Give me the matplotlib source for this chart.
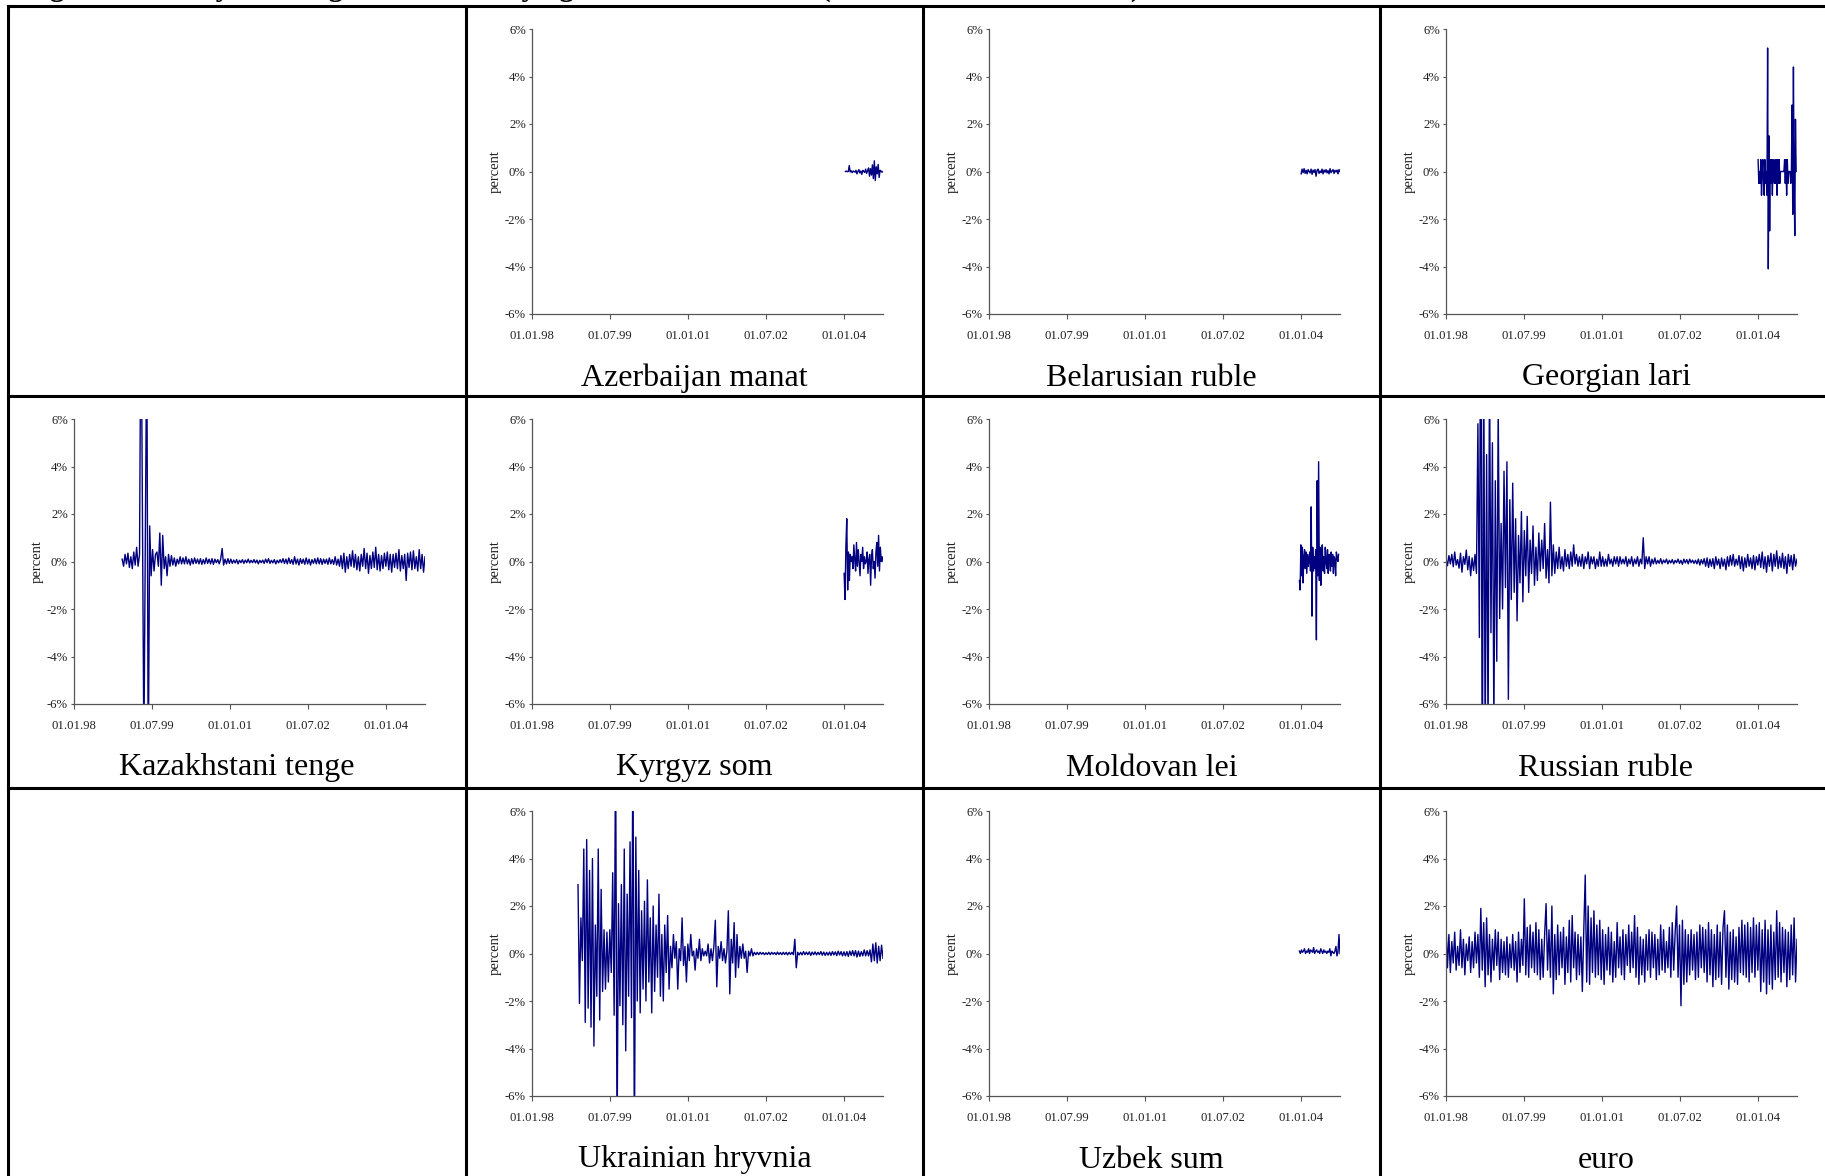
import pandas as pd
import matplotlib
matplotlib.use('Agg')
import matplotlib.pyplot as plt
from matplotlib.lines import Line2D

W, H = 1825, 1176

title = 'Figure 10: Daily exchange rate volatility against the US dollar (01.01.1998 – 30.09.2004)'

x_tick_dates = ['1998-01-01', '1999-07-01', '2001-01-01', '2002-07-01', '2004-01-01']
x_tick_labels = ['01.01.98', '01.07.99', '01.01.01', '01.07.02', '01.01.04']
y_ticks = [-6, -4, -2, 0, 2, 4, 6]
y_tick_labels = ['-6%', '-4%', '-2%', '0%', '2%', '4%', '6%']
x_start, x_end = '1998-01-01', '2004-09-30'

# daily changes in percent (thinned out)
azerbaijan = [0.0, 0.02, -0.01, 0.0, 0.25, -0.02, 0.03, -0.05, 0.02, 0.0,
              -0.03, 0.05, -0.1, 0.0, 0.08, -0.06, 0.02, -0.12, 0.05, 0.0,
              -0.04, 0.1, -0.08, 0.03, 0.15, -0.2, 0.12, -0.15, 0.28, -0.3,
              0.45, -0.38, 0.2, -0.1, 0.3, -0.25, 0.05, 0.02, -0.03, 0.0]
azerbaijan_span = ('2004-01-10', '2004-09-30')

belarus = [-0.1, 0.1, -0.05, 0.12, -0.08, 0.05, -0.1, 0.08, 0.0, -0.06,
           0.1, -0.12, 0.06, -0.04, 0.08, -0.2, 0.05, 0.1, -0.08, 0.02,
           -0.05, 0.1, -0.1, 0.06, -0.03, 0.08, -0.06, 0.04, -0.1, 0.12,
           -0.05, 0.02, 0.08, -0.08, 0.05, -0.02, 0.06, -0.1, 0.08, 0.0]
belarus_span = ('2004-01-01', '2004-09-30')

georgia = [0.5, -0.5, 0.0, -0.5, 0.5, -1.0, 0.0, 0.5, -0.5, -1.0,
           0.5, -0.5, 0.0, -1.0, 5.2, -4.1, 1.5, -2.5, 0.5, -0.5,
           0.5, -1.0, 0.5, 0.0, -0.5, 0.5, -0.5, 0.5, -1.0, 0.5,
           -0.5, 0.5, -0.5, 0.0, 0.0, 0.0, 0.0, 0.0, 0.0, 0.5,
           -0.5, 0.5, -1.0, 0.5, -0.5, 0.0, 0.0, 0.0, -0.5, 0.0,
           2.8, -1.8, 4.4, -0.5, -2.7, 2.2, 0.0]
georgia_span = ('2004-01-01', '2004-09-24')

kazakhstan = [
    0.1, -0.2, 0.3,
    -0.1, 0.35, -0.25, 0.2, -0.3, 0.4, -0.15, 0.6, -0.2, 0.3, 12.0, 2.2,
    -8.0, 1.0, 10.0, -9.0, 1.5, -0.6, 0.5, -0.4, 0.3, 0.4, -0.2, 1.2,
    -1.0, 1.1, -0.3, 0.2, -0.6, 0.3, -0.2, 0.25, -0.15, 0.15, -0.2, 0.1,
    -0.1, 0.2, -0.1, 0.15, -0.1, 0.2, -0.1, 0.1, -0.15, 0.12, -0.1, 0.15,
    -0.08, 0.1, -0.1, 0.12, -0.12, 0.08, -0.1, 0.15, -0.08, 0.1, -0.1, 0.12,
    -0.12, 0.1, -0.05, 0.08, -0.1, 0.1, 0.55, -0.15, 0.1, -0.1, 0.12, -0.08,
    0.1, -0.08, 0.06, -0.06, 0.08, -0.1, 0.05, -0.05, 0.08, -0.08, 0.06, -0.05,
    0.1, -0.06, 0.05, -0.05, 0.08, -0.06, 0.06, -0.1, 0.05, -0.05, 0.06, -0.08,
    0.1, -0.05, 0.12, -0.08, 0.05, -0.06, 0.08, -0.1, 0.05, -0.06, 0.08, -0.05,
    0.12, -0.08, 0.1, -0.1, 0.15, -0.08, 0.08, -0.12, 0.2, -0.1, 0.1, -0.15,
    0.12, -0.08, 0.1, -0.12, 0.15, -0.1, 0.1, -0.15, 0.08, -0.08, 0.12, -0.1,
    0.15, -0.1, 0.12, -0.12, 0.1, -0.08, 0.1, -0.12, 0.15, -0.1, 0.08, -0.12,
    0.2, -0.15, 0.1, -0.2, 0.25, -0.3, 0.35, -0.45, 0.2, -0.3, 0.3, -0.2,
    0.45, -0.25, 0.3, -0.35, 0.2, -0.4, 0.3, -0.2, 0.55, -0.3, 0.35, -0.5,
    0.25, -0.3, 0.4, -0.25, 0.6, -0.35, 0.3, -0.4, 0.25, -0.3, 0.35, -0.2,
    0.4, -0.35, 0.3, -0.45, 0.3, -0.25, 0.35, -0.3, 0.5, -0.4, 0.25, -0.3,
    0.3, -0.8, 0.35, -0.25, 0.4, -0.35, 0.45, -0.3, 0.2, -0.4, 0.5, -0.3,
    0.3, -0.45, 0.2]
kazakhstan_span = ('1998-12-05', '2004-09-30')

kyrgyzstan = [-0.5, -1.6, 0.6, 1.8, -1.2, 0.4, -0.8, 0.3, 0.0, 0.2,
              -0.3, 0.7, 0.1, -0.4, 0.8, -0.2, 0.5, 0.0, -0.6, 0.3,
              0.0, 0.6, -0.3, 0.2, -0.1, 0.0, 0.4, -0.5, 0.1, 0.3,
              -1.0, 0.2, 0.5, -0.3, 0.0, -0.7, 0.4, 0.8, -0.2, 1.1,
              -0.4, 0.6, 0.0, 0.2, 0.0]
kyrgyzstan_span = ('2004-01-01', '2004-09-30')

moldova = [-0.8, -1.2, 0.7, -0.6, 0.6, -0.9, 0.2, 0.5, -0.3, 0.4,
           -0.5, 0.3, -0.2, 0.1, 0.4, -0.4, 2.3, -2.3, 0.6, -0.4,
           0.2, -0.3, 0.5, -3.3, 3.4, -0.6, 4.2, -0.8, 0.6, -1.0,
           0.3, 0.7, -0.4, 0.2, -0.5, 0.6, 0.0, -0.3, 0.5, -0.5,
           0.3, 0.1, -0.4, 0.4, -0.2, 0.3, -0.5, 0.2, 0.1, -0.6,
           0.4, 0.2, 0.0, 0.3]
moldova_span = ('2003-12-20', '2004-09-20')

russia = [
    0.12, -0.18, 0.25, -0.1, 0.3, -0.22, 0.4, -0.15, 0.08, -0.28, 0.35, -0.45,
    0.2, -0.12, 0.48, -0.35, 0.22, -0.6, 0.15, -0.38, 0.3, -0.5, 5.8, -3.2,
    14.0, -10.5, 9.0, -8.0, 4.5, -7.5, 8.2, -3.0, 5.0, -7.0, 3.4, -4.2,
    6.5, -2.4, 1.6, -2.0, 3.8, -1.1, 4.2, -5.8, 2.6, -1.6, 3.3, -1.3,
    1.8, -2.5, 1.1, -0.9, 2.1, -1.7, 1.3, -0.6, 1.9, -1.3, 0.9, -0.5,
    1.5, -1.0, 0.6, -0.8, 1.2, -0.4, 0.9, -0.3, 1.6, -0.7, 0.5, -0.9,
    2.5, -0.6, 0.7, -0.5, 0.4, -0.3, 0.6, -0.3, 0.2, -0.4, 0.5, -0.2,
    0.3, -0.3, 0.4, -0.2, 0.7, -0.1, 0.3, -0.2, 0.2, -0.2, 0.3, -0.3,
    0.2, -0.1, 0.4, -0.3, 0.2, -0.1, 0.2, -0.3, 0.1, -0.2, 0.4, -0.2,
    0.2, -0.2, 0.1, -0.2, 0.3, -0.1, 0.1, -0.2, 0.2, -0.1, 0.2, -0.2,
    0.2, -0.1, 0.1, -0.1, 0.2, -0.2, 0.1, -0.1, 0.2, -0.2, 0.1, -0.1,
    0.2, -0.2, 0.1, -0.1, 1.0, -0.3, 0.2, -0.1, 0.2, -0.2, 0.1, -0.1,
    0.15, -0.1, 0.05, -0.08, 0.12, -0.1, 0.06, -0.05, 0.1, -0.1, 0.05, -0.06,
    0.08, -0.1, 0.05, -0.05, 0.1, -0.08, 0.05, -0.12, 0.1, -0.06, 0.08, -0.1,
    0.1, -0.05, 0.06, -0.08, 0.05, -0.1, 0.1, -0.15, 0.08, -0.1, 0.12, -0.2,
    0.15, -0.25, 0.1, -0.2, 0.12, -0.3, 0.2, -0.15, 0.1, -0.3, 0.15, -0.2,
    0.1, -0.35, 0.2, -0.2, 0.25, -0.15, 0.3, -0.2, 0.1, -0.15, 0.25, -0.3,
    0.2, -0.4, 0.15, -0.25, 0.3, -0.2, 0.15, -0.3, 0.25, -0.35, 0.2, -0.15,
    0.3, -0.25, 0.4, -0.3, 0.2, -0.45, 0.25, -0.2, 0.35, -0.4, 0.3, -0.2,
    0.45, -0.3, 0.2, -0.25, 0.35, -0.3, 0.2, -0.5, 0.3, -0.2, 0.25, -0.35,
    0.3, -0.2, 0.1]
russia_span = ('1998-01-01', '2004-09-30')

ukraine = [
    2.9, -2.1, 1.5, -0.3, 4.4,
    -2.9, 4.8, -2.3, 3.5, -3.1, 4.0, -3.9, 1.2, -1.8, 4.4, -2.8, 2.7,
    -1.6, 1.0, -1.5, 0.9, -1.2, 1.0, -0.8, 3.4, -2.6, 9.0, -8.0, 2.1,
    -2.2, 2.9, -3.0, 4.4, -4.1, 2.5, -1.8, 4.7, -2.7, 9.0, -8.5, 4.9,
    -2.0, 3.5, -2.5, 1.8, -1.5, 2.2, -2.0, 3.1, -1.2, 1.5, -2.5, 2.0,
    -1.6, 1.2, -1.0, 2.5, -1.8, 0.8, -2.0, 1.2, -0.8, 1.6, -1.5, 0.3,
    -0.6, 0.8, -0.2, 0.5, -1.5, 0.2, -0.3, 1.5, -0.5, 0.3, -1.2, 0.4,
    -0.3, 0.8, -0.1, 0.1, -0.7, 0.2, -0.2, 0.6, -0.3, 0.2, -0.1, 0.1,
    -0.1, 0.4, -0.4, 0.2, -0.3, 0.3, 1.4, -1.4, 0.3, -0.2, 0.5, -0.3,
    0.2, -0.4, 0.1, 1.8, -1.7, 0.6, -0.4, 1.3, -1.0, 0.8, -0.6, 0.3,
    -0.2, 0.4, -0.2, 0.1, -0.8, 0.1, -0.1, 0.2, -0.1, 0.05, -0.05, 0.05,
    -0.05, 0.05, -0.03, 0.04, -0.05, 0.03, -0.04, 0.05, -0.05, 0.05, -0.03, 0.04,
    -0.05, 0.06, -0.04, 0.04, -0.05, 0.05, -0.04, 0.05, -0.06, 0.05, -0.04, 0.05,
    -0.05, 0.6, -0.6, 0.05, -0.06, 0.05, -0.06, 0.08, -0.05, 0.06, -0.05, 0.07,
    -0.08, 0.06, -0.05, 0.07, -0.06, 0.05, -0.05, 0.08, -0.07, 0.06, -0.08, 0.05,
    -0.07, 0.06, -0.08, 0.08, -0.06, 0.07, -0.09, 0.1, -0.06, 0.08, -0.1, 0.07,
    -0.1, 0.08, -0.12, 0.1, -0.08, 0.12, -0.1, 0.12, -0.15, 0.1, -0.12, 0.08,
    -0.1, 0.15, -0.1, 0.12, -0.1, 0.15, -0.35, 0.4, -0.3, 0.45, -0.4, 0.3,
    -0.3, 0.35, -0.2]
ukraine_span = ('1998-11-20', '2004-09-30')

uzbekistan = [0.1, 0.0, 0.15, 0.05, 0.1, 0.2, 0.0, 0.1, 0.05, 0.2,
              0.0, 0.15, 0.1, 0.05, 0.25, 0.0, 0.1, 0.15, 0.05, 0.1,
              0.0, 0.2, 0.1, 0.0, 0.15, 0.05, 0.1, 0.0, 0.1, 0.05,
              0.2, -0.1, 0.1, 0.05, 0.0, 0.1, 0.3, -0.1, 0.05, 0.8, 0.0]
uzbekistan_span = ('2003-12-20', '2004-09-30')

euro = [
    1.2, -0.6, 0.8, -0.8, 0.5, -0.4, 0.9, -0.7, 0.3, -0.5, 1.0, -0.6,
    0.6, -0.9, 0.4, -0.3, 0.7, -0.8, 0.5, -0.6, 0.9, -0.4, 0.8, -1.0,
    1.9, -0.7, 1.3, -1.4, 1.5, -0.9, 0.8, -1.2, 0.6, -0.7, 1.0, -0.5,
    0.9, -1.1, 0.6, -0.8, 0.5, -0.9, 0.7, -1.0, 0.4, -0.6, 0.8, -0.7,
    0.5, -1.2, 0.9, -0.8, 0.6, -0.5, 2.3, -0.9, 1.1, -1.0, 1.2, -0.6,
    0.9, -0.8, 1.3, -0.9, 1.0, -1.1, 0.6, -1.0, 0.8, 2.1, -0.7, 1.0,
    -1.0, 2.0, -1.7, 0.8, -1.1, 1.2, -0.9, 0.9, -0.6, 1.1, -1.3, 0.7,
    -0.8, 1.4, -1.2, 1.6, -0.6, 0.9, -1.1, 0.8, -0.9, 0.7, -1.6, 1.0,
    3.3, -1.2, 2.0, -1.3, 1.5, -0.8, 1.8, -1.0, 1.2, -0.9, 1.4, -1.1,
    1.0, -1.3, 0.8, -0.7, 1.1, -0.9, 0.9, -1.2, 0.5, -1.0, 1.3, -0.6,
    0.7, -0.9, 1.0, -1.1, 0.8, -0.5, 1.2, -0.8, 0.9, -0.6, 1.6, -1.0,
    1.1, -1.3, 0.7, -0.9, 0.6, -1.2, 0.8, -0.7, 1.0, -1.0, 0.9, -0.6,
    0.8, -1.1, 0.6, -0.9, 1.2, -0.7, 1.0, -0.8, 0.5, -0.6, 1.1, -1.0,
    1.3, -0.7, 0.9, 2.0, -1.0, 1.2, -2.2, 1.4, -1.3, 1.0, -1.2, 0.8,
    -0.9, 1.0, -0.7, 0.8, -1.1, 0.9, -1.0, 1.2, -0.6, 1.1, -0.8, 1.0,
    -1.2, 1.3, -0.9, 1.0, -1.4, 0.8, -1.1, 1.2, -1.0, 0.9, -1.3, 1.1,
    1.8, -1.0, 1.2, -1.5, 0.9, -1.1, 1.0, -1.2, 0.7, -1.3, 1.1, -0.8,
    1.4, -0.9, 1.2, -1.0, 1.3, -1.2, 1.1, -0.8, 1.5, -1.0, 1.2, -0.7,
    1.3, -1.6, 1.0, -1.2, 1.4, -1.7, 1.0, -1.3, 1.2, -1.5, 0.9, -1.1,
    1.8, -1.0, 1.3, -1.2, 1.1, -0.8, 1.0, -1.4, 0.9, -1.1, 1.2, -0.9,
    1.5, -1.2, 0.6]
euro_span = ('1998-01-01', '2004-09-30')

# (column, row, caption, values, span)
panels = [
    (1, 0, 'Azerbaijan manat', azerbaijan, azerbaijan_span),
    (2, 0, 'Belarusian ruble', belarus, belarus_span),
    (3, 0, 'Georgian lari', georgia, georgia_span),
    (0, 1, 'Kazakhstani tenge', kazakhstan, kazakhstan_span),
    (1, 1, 'Kyrgyz som', kyrgyzstan, kyrgyzstan_span),
    (2, 1, 'Moldovan lei', moldova, moldova_span),
    (3, 1, 'Russian ruble', russia, russia_span),
    (1, 2, 'Ukrainian hryvnia', ukraine, ukraine_span),
    (2, 2, 'Uzbek sum', uzbekistan, uzbekistan_span),
    (3, 2, 'euro', euro, euro_span),
]

plt.rcParams['font.family'] = ['Liberation Serif', 'DejaVu Serif']

col_left = [8, 466, 923, 1380, 1832]
row_top = [6, 396, 788]

fig = plt.figure(figsize=(W / 100, H / 100), dpi=100)
fig.patch.set_facecolor('white')

for col, row, name, vals, span in panels:
    x0 = col_left[col] + 66
    x1 = col_left[col] + 417
    y0 = row_top[row] + 23
    y1 = row_top[row] + 308
    ax = fig.add_axes([x0 / W, 1 - y1 / H, (x1 - x0) / W, (y1 - y0) / H])

    dates = pd.date_range(span[0], span[1], periods=len(vals))
    ax.plot(dates, vals, color='#000080', lw=1.0)

    ax.set_xlim(pd.Timestamp(x_start), pd.Timestamp(x_end))
    ax.set_ylim(-6, 6)
    ax.set_xticks(pd.to_datetime(x_tick_dates))
    ax.set_xticklabels(x_tick_labels)
    ax.set_yticks(y_ticks)
    ax.set_yticklabels(y_tick_labels)
    ax.set_ylabel('percent', fontsize=10.5, color='#222222')
    ax.yaxis.set_label_coords(-30 / (x1 - x0), 0.5)

    for s in ['top', 'right']:
        ax.spines[s].set_visible(False)
    for s in ['left', 'bottom']:
        ax.spines[s].set_color('#555555')
        ax.spines[s].set_linewidth(0.9)
    ax.tick_params(axis='x', direction='out', length=3.5, width=0.8, color='#555555',
                   labelsize=9.2, labelcolor='#222222', pad=8)
    ax.tick_params(axis='y', direction='out', length=2.5, width=0.8, color='#555555',
                   labelsize=9.2, labelcolor='#222222', pad=2)
    ax.patch.set_alpha(0)

    cx = (col_left[col] + col_left[col + 1]) / 2
    fig.text(cx / W, 1 - (row_top[row] + 372) / H, name, ha='center', va='center',
             fontsize=23, color='black')

# table rules
lw_rule = 2.2
for y in row_top:
    fig.add_artist(Line2D([8 / W, 1], [1 - y / H, 1 - y / H], color='black', lw=lw_rule))
for x in col_left[:4]:
    fig.add_artist(Line2D([x / W, x / W], [0, 1 - row_top[0] / H], color='black', lw=lw_rule))

# caption sits above the page edge, only the descenders show
fig.text(23 / W, 1 + 4 / H, title, ha='left', va='baseline', fontsize=21.6,
         fontweight='bold', color='black')

fig.savefig('out.png', dpi=100)
